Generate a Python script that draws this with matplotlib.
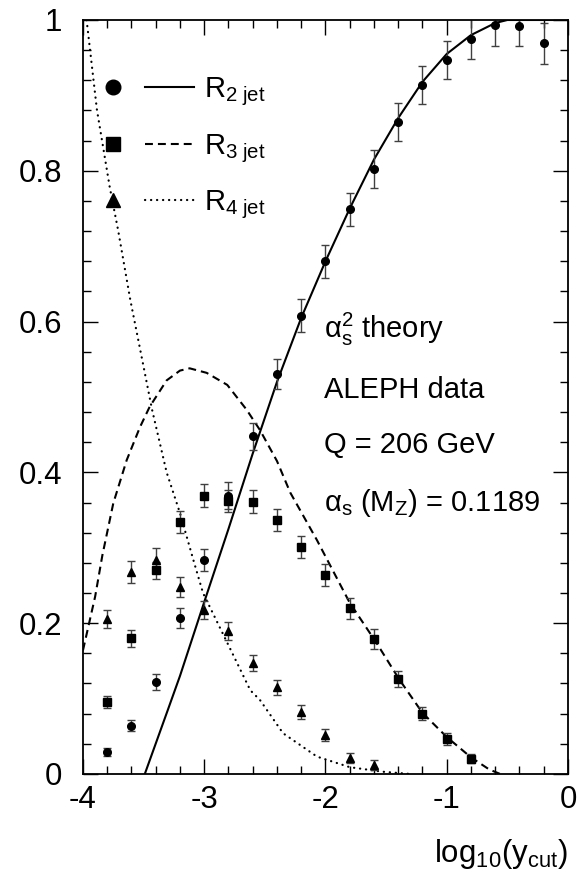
import numpy as np
import matplotlib
matplotlib.use("Agg")
import matplotlib.pyplot as plt
from matplotlib.lines import Line2D
from matplotlib.legend_handler import HandlerTuple
from matplotlib.ticker import MultipleLocator

plt.rcParams["font.family"] = ["Liberation Sans", "DejaVu Sans"]
plt.rcParams["mathtext.fontset"] = "custom"
plt.rcParams["mathtext.rm"] = "Liberation Sans"
plt.rcParams["mathtext.it"] = "Liberation Sans"
plt.rcParams["axes.unicode_minus"] = False

# theory curves
r2_curve_x = [-3.49, -3.3, -3.2, -3.0, -2.8, -2.6, -2.4, -2.2, -2.0, -1.8,
              -1.6, -1.4, -1.2, -1.0, -0.8, -0.6, -0.5, 0.0]
r2_curve_y = [0.0, 0.085, 0.13, 0.228, 0.325, 0.425, 0.52, 0.605, 0.68, 0.75,
              0.815, 0.87, 0.918, 0.955, 0.98, 0.996, 1.0, 1.0]

r3_curve_x = [-4.0, -3.9, -3.84, -3.75, -3.64, -3.53, -3.45, -3.31, -3.2, -3.12,
              -2.98, -2.81, -2.65, -2.54, -2.4, -2.29, -2.07, -1.8, -1.58, -1.39,
              -1.2, -1.0, -0.8, -0.65, -0.56]
r3_curve_y = [0.164, 0.235, 0.29, 0.359, 0.416, 0.46, 0.487, 0.522, 0.535, 0.538,
              0.532, 0.516, 0.483, 0.456, 0.415, 0.373, 0.31, 0.227, 0.174, 0.125,
              0.081, 0.049, 0.022, 0.006, 0.0]

r4_curve_x = [-3.97, -3.885, -3.78, -3.71, -3.61, -3.5, -3.43, -3.31, -3.2, -3.09,
              -3.01, -2.81, -2.62, -2.54, -2.35, -2.07, -1.8, -1.53, -1.3]
r4_curve_y = [1.0, 0.881, 0.779, 0.721, 0.629, 0.54, 0.483, 0.40, 0.346, 0.284,
              0.24, 0.174, 0.111, 0.098, 0.054, 0.023, 0.009, 0.003, 0.0]

# ALEPH data
log_ycut = [-3.8, -3.6, -3.4, -3.2, -3.0, -2.8, -2.6, -2.4, -2.2, -2.0,
            -1.8, -1.6, -1.4, -1.2, -1.0, -0.8, -0.6, -0.4, -0.2]

r2_data = [0.029, 0.064, 0.122, 0.207, 0.284, 0.369, 0.448, 0.53, 0.608, 0.68,
           0.749, 0.802, 0.865, 0.914, 0.947, 0.975, 0.993, 0.992, 0.969]
r2_err = [0.005, 0.007, 0.01, 0.013, 0.015, 0.018, 0.018, 0.02, 0.022, 0.022,
          0.022, 0.025, 0.025, 0.025, 0.025, 0.027, 0.027, 0.027, 0.027]

r3_data = [0.095, 0.180, 0.27, 0.334, 0.369, 0.362, 0.361, 0.337, 0.301, 0.264,
           0.220, 0.179, 0.126, 0.080, 0.046, 0.02]
r3_err = [0.008, 0.011, 0.011, 0.015, 0.015, 0.015, 0.015, 0.015, 0.015, 0.015,
          0.014, 0.013, 0.011, 0.009, 0.008, 0.006]

r4_data = [0.206, 0.268, 0.284, 0.248, 0.218, 0.19, 0.147, 0.115, 0.082, 0.052,
           0.021, 0.012]
r4_err = [0.012, 0.015, 0.016, 0.013, 0.012, 0.012, 0.011, 0.01, 0.009, 0.008,
          0.007, 0.007]

labels = [r"R$_{\rm 2\ jet}$", r"R$_{\rm 3\ jet}$", r"R$_{\rm 4\ jet}$"]

DASHED = dict(ls=(0, (3.8, 2.4)), lw=1.5)
DOTTED = dict(ls=(0, (0.1, 2.6)), lw=1.6, dash_capstyle="round")
SOLID = dict(ls="-", lw=1.5)

fig = plt.figure(figsize=(5.77, 8.77), dpi=100)
ax = fig.add_axes([0.1438, 0.1175, 0.9844 - 0.1438, 0.9772 - 0.1175])

ax.plot(r2_curve_x, r2_curve_y, color="black", **SOLID)
ax.plot(r3_curve_x, r3_curve_y, color="black", **DASHED)
ax.plot(r4_curve_x, r4_curve_y, color="black", **DOTTED)

eb = dict(ls="none", color="black", ecolor="0.25", elinewidth=1.0,
          capsize=2.7, capthick=1.0)
ax.errorbar(log_ycut, r2_data, yerr=r2_err, marker="o", ms=5.5, **eb)
ax.errorbar(log_ycut[:len(r3_data)], r3_data, yerr=r3_err, marker="s", ms=5.5, **eb)
ax.errorbar(log_ycut[:len(r4_data)], r4_data, yerr=r4_err, marker="^", ms=6, **eb)

ax.set_xlim(-4, 0)
ax.set_ylim(0, 1)
ax.xaxis.set_minor_locator(MultipleLocator(0.2))
ax.yaxis.set_minor_locator(MultipleLocator(0.04))
ax.set_xticks([-4, -3, -2, -1, 0])
ax.set_xticklabels(["-4", "-3", "-2", "-1", "0"])
ax.set_yticks([0, 0.2, 0.4, 0.6, 0.8, 1.0])
ax.set_yticklabels(["0", "0.2", "0.4", "0.6", "0.8", "1"])
ax.tick_params(which="both", direction="in", top=True, right=True,
               labelsize=22.5, width=1.0)
ax.tick_params(which="major", length=11)
ax.tick_params(which="minor", length=5.5)
ax.tick_params(axis="x", which="major", pad=8)
ax.tick_params(axis="y", which="major", pad=15)
for s in ax.spines.values():
    s.set_linewidth(1.3)

ax.set_xlabel(r"log$_{\rm 10}$(y$_{\rm cut}$)", fontsize=22.5, loc="right",
              labelpad=16)

# legend: marker then line sample
styles = [("o", SOLID), ("s", DASHED), ("^", DOTTED)]
handles = []
for m, st in styles:
    mk = Line2D([], [], ls="none", marker=m, ms=10.5, color="black")
    ln = Line2D([], [], color="black", **st)
    handles.append((mk, ln))
ax.legend(handles, labels, handler_map={tuple: HandlerTuple(ndivide=None, pad=0.28)},
          loc="upper left", bbox_to_anchor=(0.012, 0.927), frameon=False,
          fontsize=21, handlelength=3.6, handletextpad=0.35, labelspacing=0.82,
          borderaxespad=0.0, borderpad=0.0)

txt = dict(transform=ax.transAxes, fontsize=21, va="center", ha="left")
ax.text(0.497, 0.589, r"α$_{\rm s}^{\rm 2}$ theory", **txt)
ax.text(0.497, 0.509, "ALEPH data", **txt)
ax.text(0.497, 0.436, "Q = 206 GeV", **txt)
ax.text(0.497, 0.359, r"α$_{\rm s}$ (M$_{\rm Z}$) = 0.1189", **txt)

fig.savefig("out.png", dpi=100)
